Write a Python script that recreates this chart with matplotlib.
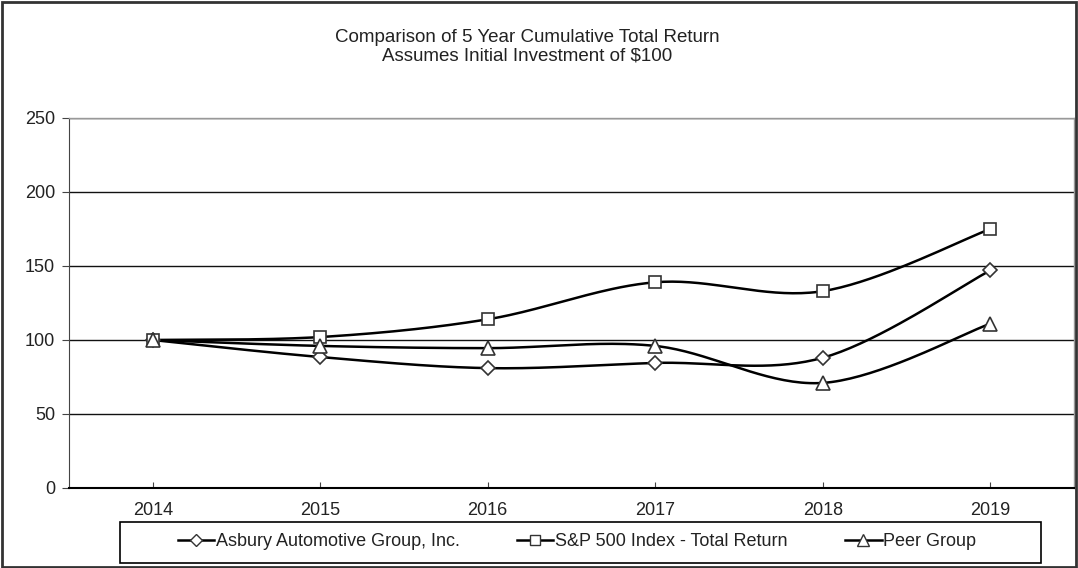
import numpy as np
import matplotlib

matplotlib.use("Agg")
import matplotlib.pyplot as plt
from matplotlib.patches import Rectangle

years = ["2014", "2015", "2016", "2017", "2018", "2019"]
asbury = [100, 88.5, 81, 84.5, 88, 147]
sp500 = [100, 102, 114, 139, 133, 175]
peer = [100, 96, 94.5, 96, 71, 111]

series = [
    ("Asbury Automotive Group, Inc.", asbury, "D", 7.5),
    ("S&P 500 Index - Total Return", sp500, "s", 8.5),
    ("Peer Group", peer, "^", 9.5),
]


def smooth(x, y, n=40):
    # Excel-style smoothed line: Catmull-Rom through the points
    pts = np.column_stack([x, y]).astype(float)
    pts = np.vstack([pts[0], pts, pts[-1]])
    t = np.linspace(0, 1, n)[:, None]
    out = []
    for i in range(1, len(pts) - 2):
        p0, p3 = pts[i], pts[i + 1]
        c1 = p0 + (pts[i + 1] - pts[i - 1]) / 6
        c2 = p3 - (pts[i + 2] - pts[i]) / 6
        out.append((1 - t) ** 3 * p0 + 3 * (1 - t) ** 2 * t * c1
                   + 3 * (1 - t) * t ** 2 * c2 + t ** 3 * p3)
    out = np.vstack(out)
    return out[:, 0], out[:, 1]


plt.rcParams["font.family"] = ["Liberation Sans", "DejaVu Sans"]
plt.rcParams["text.color"] = "#222222"

W, H = 1078, 568
fig = plt.figure(figsize=(W / 100, H / 100), dpi=100)
ax = fig.add_axes([69 / W, 1 - 488 / H, (1074 - 69) / W, (488 - 118) / H])

x = np.arange(len(years))
handles = []
for name, vals, marker, ms in series:
    sx, sy = smooth(x, vals)
    ax.plot(sx, sy, color="black", lw=1.8, zorder=3)
    ax.plot(x, vals, linestyle="none", marker=marker, ms=ms, mfc="white",
            mec="#333333", mew=1.2, zorder=4)
    h, = ax.plot([], [], color="black", lw=1.8, marker=marker, ms=ms - 1.5,
                 mfc="white", mec="#333333", mew=1)
    handles.append(h)

ax.set_xlim(-0.5, len(years) - 0.5)
ax.set_ylim(0, 250)
ax.set_yticks(range(0, 251, 50))
ax.set_xticks(x)
ax.set_xticklabels(years)
ax.yaxis.grid(True, color="#111111", lw=1)
ax.set_axisbelow(True)
for side in ["top", "right"]:
    ax.spines[side].set_color("#999999")
    ax.spines[side].set_linewidth(1)
ax.spines["left"].set_color("#444444")
ax.spines["bottom"].set_linewidth(1.5)
ax.tick_params(axis="y", direction="out", length=5, labelsize=13, pad=5,
               colors="#444444", labelcolor="#222222")
ax.tick_params(axis="x", direction="in", length=4, labelsize=13, pad=10,
               colors="#444444", labelcolor="#222222")

fig.text(527 / W, 1 - 47 / H,
         "Comparison of 5 Year Cumulative Total Return\nAssumes Initial Investment of $100",
         ha="center", va="center", fontsize=13.5, linespacing=1.1)

# legend entries centred inside a separately drawn box
lx0, lx1, ly0, ly1 = 120, 1041, 522, 563
fig.legend(handles, [s[0] for s in series], ncol=3, loc="center",
           bbox_to_anchor=(577 / W, 1 - 542 / H), frameon=False,
           fontsize=13, handlelength=2.0, handletextpad=0.1,
           columnspacing=3.2, borderaxespad=0)
fig.patches.append(Rectangle((lx0 / W, 1 - ly1 / H), (lx1 - lx0) / W, (ly1 - ly0) / H,
                             transform=fig.transFigure, fill=False,
                             edgecolor="black", lw=1.2))

fig.patches.append(Rectangle((0.002, 0.002), 0.996, 0.995, transform=fig.transFigure,
                             fill=False, edgecolor="#333333", lw=2))

fig.savefig("out.png", dpi=100)
